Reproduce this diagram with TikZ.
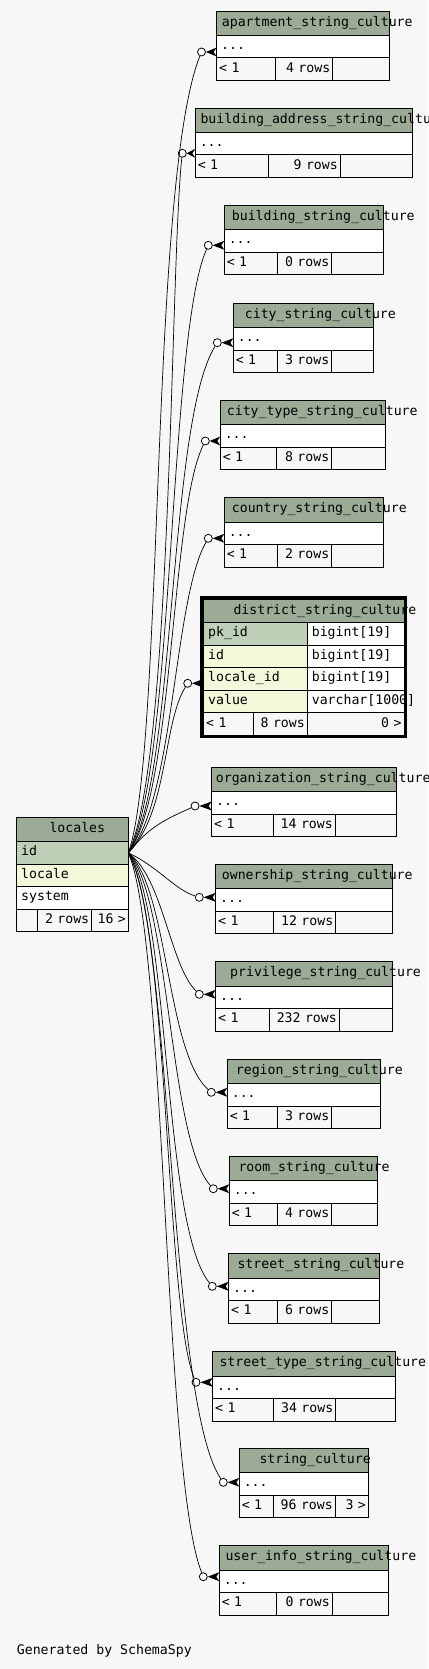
\documentclass[tikz,border=0pt]{standalone}
\usepackage{fontspec}
\usepackage{tikz}
\usetikzlibrary{calc}
\newfontfamily\spyface{DejaVu Sans Mono}
\newcommand{\spyfont}{\fontsize{13.2pt}{15pt}\selectfont\spyface}
\definecolor{SpyHead}{RGB}{155,171,150}
\definecolor{SpyKey}{RGB}{190,209,184}
\definecolor{SpyIndex}{RGB}{244,247,218}
\definecolor{SpyPaper}{RGB}{247,247,247}

% a collapsed "..._string_culture" table: name, left, top, col1 right, col2 right, right, title x, title, rows
\newcommand{\strtable}[9]{%
  \pgfmathsetmacro\spyW{#6-#2}%
  \pgfmathsetmacro\spyD{#6-#2-9}%
  \pgfmathsetmacro\spyA{#4-#2-5}%
  \pgfmathsetmacro\spyB{#5-#4-5}%
  \pgfmathsetmacro\spyC{#6-#5-5}%
  \node[headcell,minimum width=\spyW pt] (#1) at (#2,#3) {};
  \node[titletext] (#1-title) at (#7,#3+12.2) {#8};
  \node[dotcell,text width=\spyD pt] (#1-dots) at (#1.south west) {...};
  \node[footcell,align=left,text width=\spyA pt] (#1-f1) at (#1-dots.south west) {< 1};
  \node[footcell,align=right,text width=\spyB pt] (#1-f2) at (#1-f1.north east) {#9};
  \node[footcell,text width=\spyC pt] (#1-f3) at (#1-f2.north east) {};
}
% open circle and crow's foot in front of a row
\newcommand{\fkend}[4]{%
  \node[fkdot] (#1-o) at (#3,#4) {};
  \coordinate (#1-tip) at (#2.west |- #1-o);
  \fill (#1-o.east) -- ([yshift=4.5pt]#1-tip) -- ([xshift=-3pt]#1-tip) -- ([yshift=-4.5pt]#1-tip) -- cycle;
}

\begin{document}
\begin{tikzpicture}[x=1pt,y=-1pt,
  headcell/.style={draw,line width=0.9pt,fill=SpyHead,anchor=north west,minimum height=24.3pt,inner sep=0pt,outer sep=0pt},
  titletext/.style={anchor=west,inner sep=0pt,font=\spyfont,text height=9pt,text depth=3pt},
  dotcell/.style={draw,line width=0.9pt,fill=white,anchor=north west,minimum height=22.5pt,inner xsep=4.5pt,inner ysep=0pt,outer sep=0pt,align=left,font=\spyfont,text height=9pt,text depth=3pt},
  footcell/.style={draw,line width=0.9pt,anchor=north west,minimum height=22.7pt,inner xsep=2.5pt,inner ysep=0pt,outer sep=0pt,font=\spyfont,text height=9pt,text depth=3pt},
  fkdot/.style={draw,circle,line width=0.8pt,fill=white,minimum size=8pt,inner sep=0pt},
  fkline/.style={line width=0.7pt}]
\useasboundingbox (0,0) rectangle (428,1669);
\fill[SpyPaper] (0,0) rectangle (428,1669);
\clip (0,0) rectangle (428,1669);

% parent table
\node[headcell,minimum width=111.6pt] (locales) at (16.7,817.3) {};
\node[titletext] (locales-title) at (49.3,829.5) {locales};
\node[dotcell,fill=SpyKey,text width=102.6pt] (locales-id) at (locales.south west) {id};
\node[dotcell,fill=SpyIndex,text width=102.6pt] (locales-locale) at (locales-id.south west) {locale};
\node[dotcell,text width=102.6pt] (locales-system) at (locales-locale.south west) {system};
\node[footcell,text width=16pt] (locales-f1) at (locales-system.south west) {};
\node[footcell,align=right,text width=49pt] (locales-f2) at (locales-f1.north east) {2 rows};
\node[footcell,align=right,text width=31.6pt] (locales-f3) at (locales-f2.north east) {16 >};

% the one table shown with its columns
\node[headcell,minimum width=200.3pt,minimum height=23.4pt] (district) at (203.7,599.3) {};
\node[titletext] (district-title) at (233.3,611) {district\_string\_culture};
\node[dotcell,fill=SpyKey,text width=94.6pt] (district-pk) at (district.south west) {pk\_id};
\node[dotcell,text width=87.7pt] (district-pkt) at (district-pk.north east) {bigint[19]};
\node[dotcell,fill=SpyIndex,text width=94.6pt] (district-id) at (district-pk.south west) {id};
\node[dotcell,text width=87.7pt] (district-idt) at (district-id.north east) {bigint[19]};
\node[dotcell,fill=SpyIndex,text width=94.6pt] (district-locale) at (district-id.south west) {locale\_id};
\node[dotcell,text width=87.7pt] (district-localet) at (district-locale.north east) {bigint[19]};
\node[dotcell,fill=SpyIndex,text width=94.6pt] (district-value) at (district-locale.south west) {value};
\node[dotcell,text width=87.7pt] (district-valuet) at (district-value.north east) {varchar[1000]};
\node[footcell,align=left,text width=44.6pt] (district-f1) at (district-value.south west) {< 1};
\node[footcell,align=right,text width=49pt] (district-f2) at (district-f1.north east) {8 rows};
\node[footcell,align=right,text width=91.7pt] (district-f3) at (district-f2.north east) {0 >};
\draw[line width=3pt] (201.9,597.3) rectangle (405.5,736.3);

% child tables
\strtable{apartment}{216.7}{11}{275.7}{332.7}{389.7}{221.7}{apartment\_string\_culture}{4 rows}
\strtable{baddress}{195.3}{108}{268.7}{340.3}{412.7}{200.3}{building\_address\_string\_culture}{9 rows}
\strtable{building}{224.3}{205.3}{277.3}{331.7}{383.3}{231.7}{building\_string\_culture}{0 rows}
\strtable{city}{233.3}{303.3}{277.3}{331.7}{373.3}{244.7}{city\_string\_culture}{3 rows}
\strtable{citytype}{220.3}{400.3}{276.7}{331.7}{385.3}{226.7}{city\_type\_string\_culture}{8 rows}
\strtable{country}{224.3}{497.7}{277.3}{331.7}{383.3}{231.7}{country\_string\_culture}{2 rows}
\strtable{organization}{211.7}{767.3}{273.3}{335.3}{396.7}{215.7}{organization\_string\_culture}{14 rows}
\strtable{ownership}{215.7}{864.3}{273.7}{335.7}{392.3}{221.7}{ownership\_string\_culture}{12 rows}
\strtable{privilege}{215.7}{961.7}{269.3}{339.3}{392.3}{230}{privilege\_string\_culture}{232 rows}
\strtable{region}{227.3}{1059.3}{277.3}{331.7}{380.3}{235.7}{region\_string\_culture}{3 rows}
\strtable{room}{229.3}{1156.3}{277.3}{331.7}{377.7}{238.3}{room\_string\_culture}{4 rows}
\strtable{street}{228.7}{1253.7}{277.3}{331.7}{379.3}{237.3}{street\_string\_culture}{6 rows}
\strtable{streettype}{212.7}{1351.7}{273.7}{335.7}{395.7}{219.3}{street\_type\_string\_culture}{34 rows}
\strtable{stringculture}{239.3}{1448.3}{273.3}{335.3}{368.3}{259.3}{string\_culture}{96 rows}
\node[footcell,anchor=north east,align=right,text width=28pt] (stringculture-next) at (stringculture-f3.north east) {3 >};
\strtable{userinfo}{219.3}{1545.7}{276.3}{332.3}{388.3}{225.3}{user\_info\_string\_culture}{0 rows}

% foreign key ends
\fkend{apartment}{apartment-dots}{201.5}{52}
\fkend{baddress}{baddress-dots}{182.3}{153.3}
\fkend{building}{building-dots}{208.3}{245.3}
\fkend{city}{city-dots}{217.3}{342.7}
\fkend{citytype}{citytype-dots}{205.3}{441}
\fkend{country}{country-dots}{208.3}{538.3}
\fkend{district}{district-locale}{187.7}{683.3}
\fkend{organization}{organization-dots}{195}{806}
\fkend{ownership}{ownership-dots}{199.3}{897.3}
\fkend{privilege}{privilege-dots}{199.3}{994.3}
\fkend{region}{region-dots}{211.3}{1092.3}
\fkend{room}{room-dots}{213.3}{1188.7}
\fkend{street}{street-dots}{212.3}{1286.3}
\fkend{streettype}{streettype-dots}{196}{1382.3}
\fkend{stringculture}{stringculture-dots}{223.3}{1482.3}
\fkend{userinfo}{userinfo-dots}{203.3}{1576.7}

% relations from locales.id
\draw[fkline] (locales-id.east) .. controls +(36,-100) and +(-52,130) .. (apartment-o);
\draw[fkline] (locales-id.east) .. controls +(44,-90) and +(-12,110) .. (baddress-o);
\draw[fkline] (locales-id.east) .. controls +(46,-80) and +(-40,90) .. (building-o);
\draw[fkline] (locales-id.east) .. controls +(48,-70) and +(-50,80) .. (city-o);
\draw[fkline] (locales-id.east) .. controls +(46,-60) and +(-35,70) .. (citytype-o);
\draw[fkline] (locales-id.east) .. controls +(46,-50) and +(-35,60) .. (country-o);
\draw[fkline] (locales-id.east) .. controls +(40,-40) and +(-25,40) .. (district-o);
\draw[fkline] (locales-id.east) .. controls +(22,-28) and +(-26,12) .. (organization-o);
\draw[fkline] (locales-id.east) .. controls +(30,14) and +(-25,-8) .. (ownership-o);
\draw[fkline] (locales-id.east) .. controls +(35,25) and +(-30,-30) .. (privilege-o);
\draw[fkline] (locales-id.east) .. controls +(40,35) and +(-45,-40) .. (region-o);
\draw[fkline] (locales-id.east) .. controls +(42,45) and +(-45,-50) .. (room-o);
\draw[fkline] (locales-id.east) .. controls +(42,55) and +(-50,-60) .. (street-o);
\draw[fkline] (locales-id.east) .. controls +(40,65) and +(-30,-70) .. (streettype-o);
\draw[fkline] (locales-id.east) .. controls +(44,75) and +(-55,-80) .. (stringculture-o);
\draw[fkline] (locales-id.east) .. controls +(38,85) and +(-40,-100) .. (userinfo-o);

\node[anchor=base west,inner sep=0pt,font=\spyfont] (credit) at (16.7,1654.5) {Generated by SchemaSpy};
\end{tikzpicture}
\end{document}
